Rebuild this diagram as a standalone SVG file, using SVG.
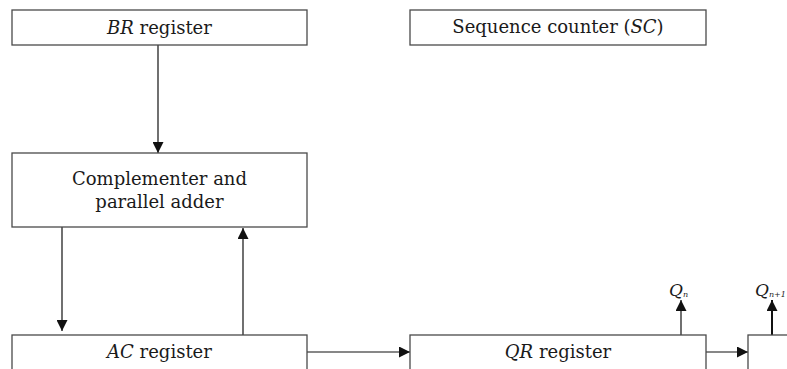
<svg xmlns="http://www.w3.org/2000/svg" width="787" height="369" viewBox="0 0 787 369">
  <style>
    .box { fill: #ffffff; stroke: #4a4a4a; stroke-width: 1.3; }
    .wire { fill: none; stroke: #111111; stroke-width: 1.2; }
    .wire-thick { fill: none; stroke: #111111; stroke-width: 2; }
    .label { font-family: "DejaVu Serif", "Liberation Serif", serif; font-size: 18px; fill: #1a1a1a; text-anchor: middle; }
    .it { font-style: italic; }
    .q { font-family: "DejaVu Serif", "Liberation Serif", serif; font-size: 17px; font-style: italic; fill: #1a1a1a; }
    .sub { font-size: 8px; }
  </style>
  <defs>
    <marker id="arrow" viewBox="0 0 10 10" refX="10" refY="5" markerWidth="11" markerHeight="11" markerUnits="userSpaceOnUse" orient="auto">
      <path d="M0,0 L10,5 L0,10 z" fill="#111111"/>
    </marker>
  </defs>

  <rect width="787" height="369" fill="#ffffff"/>

  <!-- connectors -->
  <g id="connectors">
    <line class="wire" x1="158" y1="45" x2="158" y2="153" marker-end="url(#arrow)"/>
    <line class="wire" x1="62" y1="227" x2="62" y2="331" marker-end="url(#arrow)"/>
    <line class="wire" x1="243" y1="335" x2="243" y2="228" marker-end="url(#arrow)"/>
    <line class="wire" x1="307" y1="352" x2="410" y2="352" marker-end="url(#arrow)"/>
    <line class="wire" x1="706" y1="352" x2="748" y2="352" marker-end="url(#arrow)"/>
    <line class="wire" x1="681" y1="335" x2="681" y2="300" marker-end="url(#arrow)"/>
    <line class="wire-thick" x1="772" y1="335" x2="772" y2="300" marker-end="url(#arrow)"/>
  </g>

  <g id="br-register">
    <rect class="box" x="12" y="10" width="295" height="35"/>
    <text class="label" x="159.5" y="34"><tspan class="it">BR</tspan> register</text>
  </g>

  <g id="sequence-counter">
    <rect class="box" x="410" y="10" width="296" height="35"/>
    <text class="label" x="558" y="33">Sequence counter (<tspan class="it">SC</tspan>)</text>
  </g>

  <g id="complementer-adder">
    <rect class="box" x="12" y="153" width="295" height="74"/>
    <text class="label" x="159.5" y="185">Complementer and</text>
    <text class="label" x="159.5" y="208">parallel adder</text>
  </g>

  <g id="ac-register">
    <rect class="box" x="12" y="335" width="295" height="60"/>
    <text class="label" x="159.5" y="358"><tspan class="it">AC</tspan> register</text>
  </g>

  <g id="qr-register">
    <rect class="box" x="410" y="335" width="296" height="60"/>
    <text class="label" x="558" y="358"><tspan class="it">QR</tspan> register</text>
  </g>

  <g id="qn1-flipflop">
    <rect class="box" x="748" y="335" width="100" height="60"/>
  </g>

  <g id="qn-label">
    <text class="q" x="669" y="296">Q<tspan class="sub" dy="1">n</tspan></text>
  </g>
  <g id="qn1-label">
    <text class="q" x="755" y="296">Q<tspan class="sub" dy="1">n+1</tspan></text>
  </g>
</svg>
